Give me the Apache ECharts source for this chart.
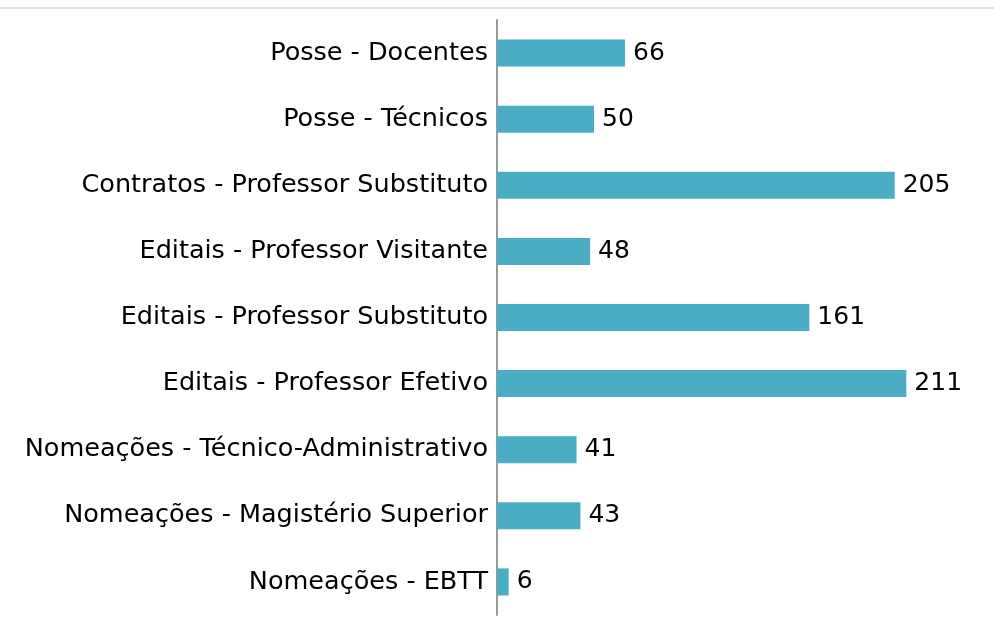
<!DOCTYPE html>
<html>
<head>
<meta charset="utf-8">
<title>chart</title>
<style>
  html, body { margin: 0; padding: 0; background: #fff; }
  #main { width: 994px; height: 624px; }
</style>
</head>
<body>
<div id="main"></div>
<script src="https://cdn.jsdelivr.net/npm/echarts@6/dist/echarts.min.js"></script>
<script>
// categories from bottom to top
var categories = [
    'Nomeações - EBTT',
    'Nomeações - Magistério Superior',
    'Nomeações - Técnico-Administrativo',
    'Editais - Professor Efetivo',
    'Editais - Professor Substituto',
    'Editais - Professor Visitante',
    'Contratos - Professor Substituto',
    'Posse - Técnicos',
    'Posse - Docentes'
];
var values = [6, 43, 41, 211, 161, 48, 205, 50, 66];

var myChart = echarts.init(document.getElementById('main'));

var option = {
    animation: false,
    textStyle: { fontFamily: 'DejaVu Sans' },
    graphic: [{
        type: 'line',
        shape: { x1: 0, y1: 8, x2: 994, y2: 8 },
        style: { stroke: '#e0e0e0', lineWidth: 2 }
    }],
    grid: { left: 497, right: 12, top: 20, bottom: 9, containLabel: false },
    xAxis: {
        type: 'value',
        min: 0,
        max: 250,
        show: false
    },
    yAxis: {
        type: 'category',
        data: categories,
        axisLine: { show: true, lineStyle: { color: '#999', width: 2 } },
        axisTick: { show: false },
        axisLabel: { color: '#000', fontSize: 25.5, margin: 9 }
    },
    series: [{
        type: 'bar',
        data: values,
        barWidth: 27,
        itemStyle: { color: '#4bacc6' },
        label: {
            show: true,
            position: 'right',
            distance: 8,
            color: '#000',
            fontSize: 25
        }
    }]
};

myChart.setOption(option);
</script>
</body>
</html>
